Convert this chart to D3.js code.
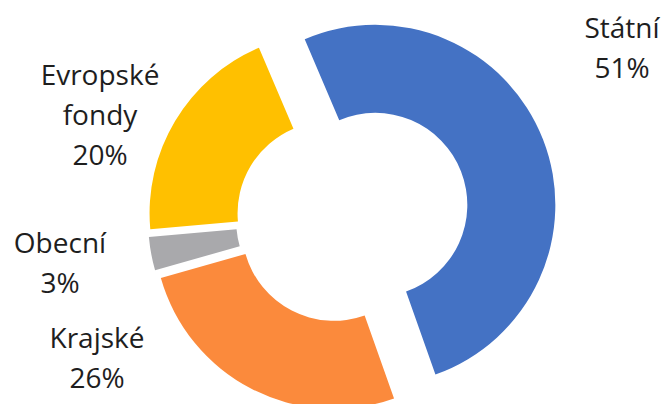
<!DOCTYPE html>
<html>
<head>
<meta charset="utf-8">
<script src="https://cdn.jsdelivr.net/npm/d3@7"></script>
<style>
  html, body { margin: 0; padding: 0; background: #fff; }
  svg { display: block; }
</style>
</head>
<body>
<svg id="chart" width="666" height="404"></svg>
<script>
// Data
const categories = ["Státní", "Krajské", "Obecní", "Evropské fondy"];
const values = [51, 26, 3, 20];
const labelLines = [["Státní", "51%"], ["Krajské", "26%"], ["Obecní", "3%"], ["Evropské", "fondy", "20%"]];

// Styles / layout
const colors = ["#4472C4", "#FB8A3C", "#A9A9AC", "#FFC000"];
const explode = [39, 11, 11, 11];
const labelAnchor = [[622, 38], [97, 348], [60, 253], [100, 85]];
const cx = 339, cy = 219, R = 180, r = 92;
const startDeg = -23.1;

const svg = d3.select("#chart");
const g = svg.append("g").attr("transform", `translate(${cx},${cy})`);

const pie = d3.pie().sort(null).value(d => d)
  .startAngle(startDeg * Math.PI / 180)
  .endAngle(startDeg * Math.PI / 180 + 2 * Math.PI);
const arcs = pie(values);
const arc = d3.arc().innerRadius(r).outerRadius(R);

g.selectAll("path").data(arcs).enter().append("path")
  .attr("d", arc)
  .attr("fill", (d, i) => colors[i])
  .attr("transform", (d, i) => {
    const m = (d.startAngle + d.endAngle) / 2;
    return `translate(${Math.sin(m) * explode[i]},${-Math.cos(m) * explode[i]})`;
  });

const lab = svg.append("g")
  .attr("font-family", "'Open Sans', sans-serif")
  .attr("font-size", 28)
  .attr("fill", "#1e1e1e")
  .attr("text-anchor", "middle");

labelLines.forEach((lines, i) => {
  const t = lab.append("text").attr("x", labelAnchor[i][0]).attr("y", labelAnchor[i][1]);
  lines.forEach((s, j) => {
    t.append("tspan").attr("x", labelAnchor[i][0]).attr("dy", j === 0 ? 0 : 40).text(s);
  });
});
</script>
</body>
</html>
